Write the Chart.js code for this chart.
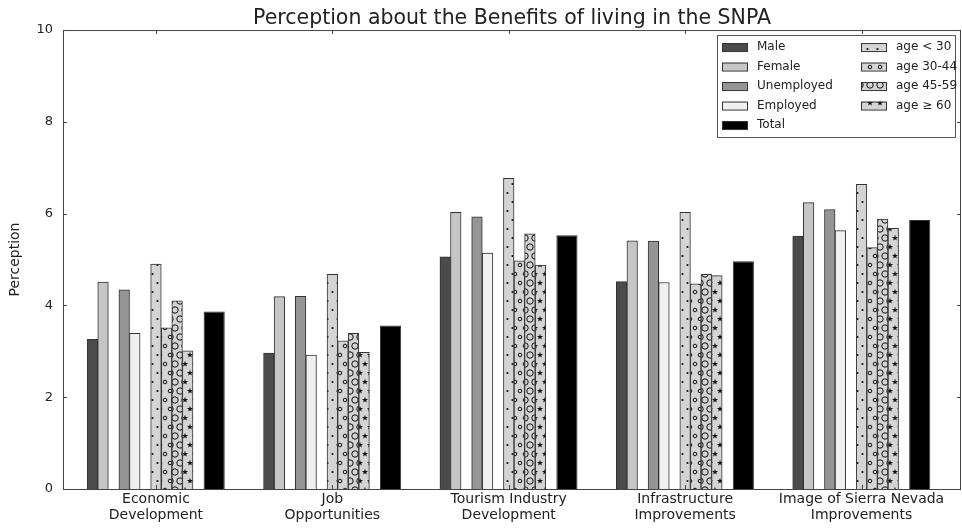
<!DOCTYPE html>
<html>
<head>
<meta charset="utf-8">
<script src="https://cdn.jsdelivr.net/npm/chart.js@4.4.1/dist/chart.umd.min.js"></script>
<style>
  html, body { margin: 0; padding: 0; background: #fff; }
  #wrap { width: 962px; height: 528px; }
</style>
</head>
<body>
<div id="wrap"><canvas id="c" width="962" height="528"></canvas></div>
<script>
// Survey categories (two-line axis labels)
const categories = [
  ["Economic", "Development"],
  ["Job", "Opportunities"],
  ["Tourism Industry", "Development"],
  ["Infrastructure", "Improvements"],
  ["Image of Sierra Nevada", "Improvements"]
];

// Mean perception scores per group
const male       = [3.26, 2.96, 5.06, 4.52, 5.51];
const female     = [4.51, 4.19, 6.03, 5.41, 6.24];
const unemployed = [4.34, 4.20, 5.93, 5.40, 6.09];
const employed   = [3.39, 2.92, 5.14, 4.50, 5.63];
const ageUnder30 = [4.90, 4.68, 6.77, 6.03, 6.64];
const age30to44  = [3.51, 3.23, 4.97, 4.47, 5.26];
const age45to59  = [4.10, 3.39, 5.56, 4.68, 5.88];
const age60plus  = [3.01, 2.98, 4.88, 4.65, 5.68];
const total      = [3.87, 3.56, 5.53, 4.96, 5.86];

const yTicks = [0, 2, 4, 6, 8, 10];

const TEXT = '#222';
const EDGE = '#333';
Chart.defaults.font.family = "'DejaVu Sans', sans-serif";
Chart.defaults.color = TEXT;

// Hatch patterns for the age groups
function makeHatch(kind) {
  const w = 10, h = 18;
  const c = document.createElement('canvas');
  c.width = w; c.height = h;
  const g = c.getContext('2d');
  g.fillStyle = '#d4d4d4';
  g.fillRect(0, 0, w, h);
  g.fillStyle = '#111';
  g.strokeStyle = '#111';
  g.lineWidth = 1;
  const spots = kind === 'dot' ? [[2.5, 4], [7.5, 13]] : [[5, 4], [0, 13], [10, 13]];
  spots.forEach(([x, y]) => {
    g.beginPath();
    if (kind === 'dot') {
      g.arc(x, y, 1.1, 0, Math.PI * 2); g.fill();
    } else if (kind === 'ring') {
      g.arc(x, y, 1.8, 0, Math.PI * 2); g.stroke();
    } else if (kind === 'bigring') {
      g.arc(x, y, 3.2, 0, Math.PI * 2); g.stroke();
    } else if (kind === 'star') {
      for (let k = 0; k < 10; k++) {
        const r = k % 2 === 0 ? 3.2 : 1.3;
        const a = -Math.PI / 2 + k * Math.PI / 5;
        const px = x + r * Math.cos(a), py = y + r * Math.sin(a);
        if (k === 0) g.moveTo(px, py); else g.lineTo(px, py);
      }
      g.closePath(); g.fill();
    }
  });
  return g.createPattern(c, 'repeat');
}

// Series layout: slot offset within a category and relative width
const series = [
  { label: 'Male',       values: male,       fill: '#4b4b4b',            offset: -0.36, widthFactor: 1, col: 0 },
  { label: 'Female',     values: female,     fill: '#c6c6c6',            offset: -0.30, widthFactor: 1, col: 0 },
  { label: 'Unemployed', values: unemployed, fill: '#959595',            offset: -0.18, widthFactor: 1, col: 0 },
  { label: 'Employed',   values: employed,   fill: '#f0f0f0',            offset: -0.12, widthFactor: 1, col: 0 },
  { label: 'age < 30',   values: ageUnder30, fill: makeHatch('dot'),     offset:  0.00, widthFactor: 1, col: 1 },
  { label: 'age 30-44',  values: age30to44,  fill: makeHatch('ring'),    offset:  0.06, widthFactor: 1, col: 1 },
  { label: 'age 45-59',  values: age45to59,  fill: makeHatch('bigring'), offset:  0.12, widthFactor: 1, col: 1 },
  { label: 'age \u2265 60', values: age60plus, fill: makeHatch('star'),  offset:  0.18, widthFactor: 1, col: 1 },
  { label: 'Total',      values: total,      fill: '#000000',            offset:  0.33, widthFactor: 2, col: 0 }
];

const datasets = series.map(s => ({
  label: s.label,
  data: s.values.map((v, i) => ({ x: i + s.offset, y: v })),
  backgroundColor: s.fill,
  borderColor: EDGE,
  borderWidth: 1,
  borderSkipped: 'bottom',
  grouped: false,
  categoryPercentage: 1,
  barPercentage: s.widthFactor,
  legendColumn: s.col
}));

// Box around the plot with inward tick marks
const frame = {
  id: 'frame',
  afterDatasetsDraw(chart) {
    const { ctx, chartArea: a, scales } = chart;
    ctx.save();
    ctx.strokeStyle = '#444';
    ctx.lineWidth = 1;
    ctx.strokeRect(a.left + 0.5, a.top + 0.5, a.right - a.left - 1, a.bottom - a.top);
    ctx.beginPath();
    yTicks.forEach(v => {
      const y = Math.round(scales.y.getPixelForValue(v)) + 0.5;
      ctx.moveTo(a.left, y); ctx.lineTo(a.left + 4, y);
      ctx.moveTo(a.right, y); ctx.lineTo(a.right - 4, y);
    });
    categories.forEach((_, i) => {
      const x = Math.round(scales.x.getPixelForValue(i)) + 0.5;
      ctx.moveTo(x, a.top); ctx.lineTo(x, a.top + 4);
      ctx.moveTo(x, a.bottom); ctx.lineTo(x, a.bottom - 4);
    });
    ctx.stroke();
    ctx.restore();
  }
};

// Two-column legend in the upper right corner of the plot
const boxLegend = {
  id: 'boxLegend',
  afterDraw(chart) {
    const { ctx, chartArea: a } = chart;
    const w = 238, h = 102;
    const left = a.right - 6 - w, top = a.top + 5;
    ctx.save();
    ctx.fillStyle = '#fff';
    ctx.fillRect(left, top, w, h);
    ctx.strokeStyle = '#555';
    ctx.lineWidth = 1;
    ctx.strokeRect(left + 0.5, top + 0.5, w, h);
    ctx.font = "12px 'DejaVu Sans', sans-serif";
    ctx.textBaseline = 'middle';
    const rows = [0, 0];
    chart.data.datasets.forEach(ds => {
      const col = ds.legendColumn;
      const x = left + 5 + col * 139;
      const y = top + 12 + rows[col] * 19.5;
      rows[col]++;
      ctx.fillStyle = ds.backgroundColor;
      ctx.fillRect(x, y - 4, 25, 8);
      ctx.strokeStyle = EDGE;
      ctx.strokeRect(x + 0.5, y - 3.5, 25, 8);
      ctx.fillStyle = TEXT;
      ctx.fillText(ds.label, x + 35, y);
    });
    ctx.restore();
  }
};

new Chart(document.getElementById('c'), {
  type: 'bar',
  data: { datasets },
  plugins: [frame, boxLegend],
  options: {
    responsive: false,
    animation: false,
    layout: { padding: { left: 0, right: 1, top: 0, bottom: 0 } },
    plugins: {
      legend: { display: false },
      tooltip: { enabled: false },
      title: {
        display: true,
        text: 'Perception about the Benefits of living in the SNPA',
        fullSize: false,
        color: TEXT,
        font: { size: 20.5, weight: 'normal', lineHeight: 1.1 },
        padding: { top: 7, bottom: 0.5 }
      }
    },
    scales: {
      x: {
        type: 'linear',
        offset: false,
        min: -0.527,
        max: 4.564,
        afterBuildTicks: s => { s.ticks = categories.map((_, i) => ({ value: i })); },
        afterFit: s => { s.height = 39; },
        ticks: {
          callback: v => categories[v],
          autoSkip: false,
          maxRotation: 0,
          minRotation: 0,
          padding: 3,
          color: TEXT,
          font: { size: 14, lineHeight: 1.1 }
        },
        grid: { display: false, drawTicks: false },
        border: { display: false }
      },
      y: {
        min: 0,
        max: 10,
        afterBuildTicks: s => { s.ticks = yTicks.map(v => ({ value: v })); },
        afterFit: s => { s.width = 63; },
        ticks: { padding: 10, color: TEXT, font: { size: 13 } },
        grid: { display: false, drawTicks: false },
        border: { display: false },
        title: {
          display: true,
          text: 'Perception',
          color: TEXT,
          font: { size: 14 },
          padding: { top: 7, bottom: 0 }
        }
      }
    }
  }
});
</script>
</body>
</html>
